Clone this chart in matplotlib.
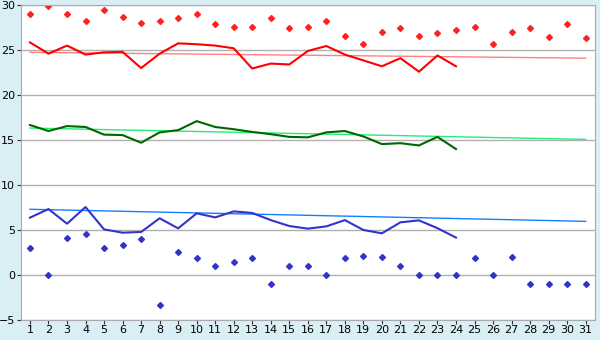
import numpy as np
import matplotlib
matplotlib.use('Agg')
import matplotlib.pyplot as plt

# jours du mois
days = np.arange(1, 32)
days_obs = np.arange(1, 25)

# records maxi (losanges rouges)
rec_max = [29.0, 29.9, 29.0, 28.2, 29.4, 28.7, 28.0, 28.2, 28.6, 29.0,
           27.9, 27.6, 27.6, 28.6, 27.4, 27.6, 28.2, 26.6, 25.7, 27.0,
           27.4, 26.6, 26.85, 27.2, 27.6, 25.7, 27.0, 27.4, 26.4, 27.85, 26.3]
# maxi observes
t_max = [25.85, 24.6, 25.5, 24.5, 24.75, 24.8, 23.0, 24.6, 25.75, 25.65,
         25.5, 25.2, 22.95, 23.5, 23.4, 24.9, 25.45, 24.5, 23.85, 23.2,
         24.1, 22.6, 24.4, 23.2]
# moyennes
t_mean = [16.67, 16.0, 16.55, 16.45, 15.6, 15.55, 14.7, 15.85, 16.1, 17.1,
          16.45, 16.2, 15.9, 15.65, 15.35, 15.3, 15.85, 16.0, 15.4, 14.55,
          14.65, 14.4, 15.35, 14.0]
# mini observes
t_min = [6.37, 7.33, 5.7, 7.55, 5.07, 4.7, 4.78, 6.3, 5.18, 6.85,
         6.4, 7.07, 6.89, 6.1, 5.44, 5.15, 5.4, 6.1, 5.0, 4.63,
         5.85, 6.07, 5.2, 4.15]
# records mini (losanges bleus)
rec_min = [3.0, 0.0, 4.1, 4.5, 3.0, 3.3, 4.0, -3.3, 2.6, 1.9,
           1.0, 1.4, 1.9, -1.0, 1.0, 1.0, 0.0, 1.9, 2.1, 2.0,
           1.0, 0.0, 0.0, 0.0, 1.9, 0.0, 2.0, -1.0, -1.0, -1.0, -1.0]
# normales (debut / fin du mois)
norm_max = [24.75, 24.1]
norm_mean = [16.33, 15.07]
norm_min = [7.3, 5.96]

fig = plt.figure(figsize=(6, 3.4), dpi=100)
fig.patch.set_facecolor('#daeef5')
ax = fig.add_axes([0.0345, 0.059, 0.957, 0.926])
ax.set_facecolor('white')

for y in range(-5, 31, 5):
    ax.axhline(y, color='#b0b0b0', lw=1, zorder=0)

ax.plot([1, 31], norm_max, color='#ff8080', lw=1)
ax.plot([1, 31], norm_mean, color='#22ee77', lw=1)
ax.plot([1, 31], norm_min, color='#1080ff', lw=1)

ax.plot(days_obs, t_max, color='#ff0000', lw=1.5)
ax.plot(days_obs, t_mean, color='#006600', lw=1.5)
ax.plot(days_obs, t_min, color='#3333cc', lw=1.5)

ax.plot(days, rec_max, 'D', color='#ff2020', ms=3, mec='#ff2020', ls='none')
ax.plot(days, rec_min, 'D', color='#3333cc', ms=3, mec='#3333cc', ls='none')

ax.set_xlim(0.5, 31.5)
ax.set_ylim(-5, 30)
ax.set_xticks(days)
ax.set_yticks(range(-5, 31, 5))
ax.tick_params(labelsize=8, length=3, color='#333333', pad=1)
for s in ax.spines.values():
    s.set_color('#aaaaaa')

fig.savefig('out.png', dpi=100, facecolor=fig.get_facecolor())
